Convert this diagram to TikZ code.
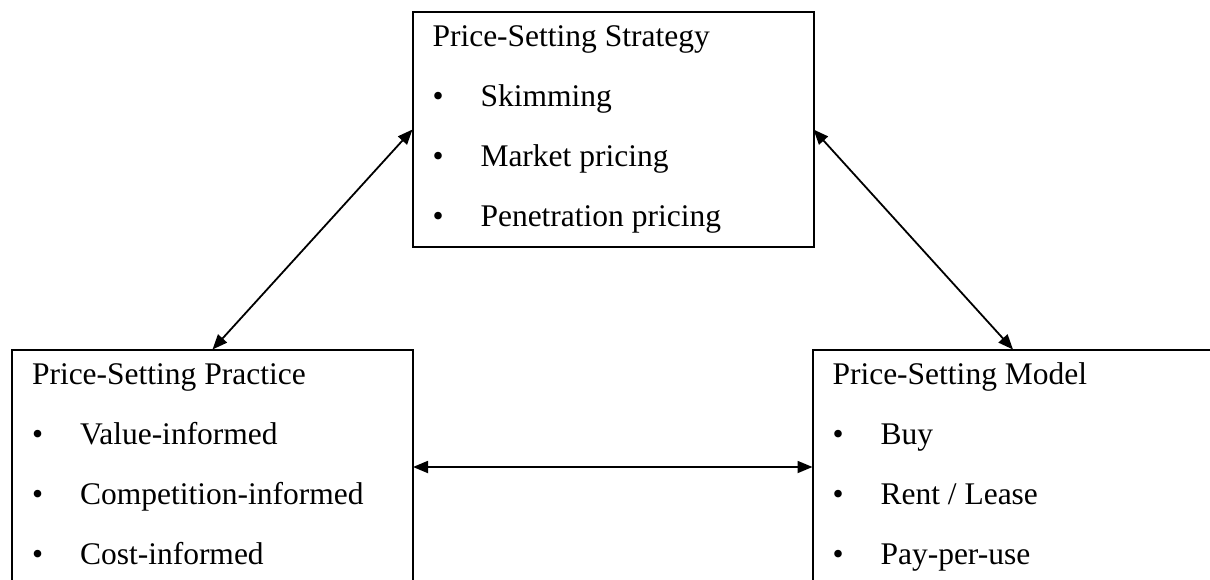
\documentclass[tikz,border=0pt]{standalone}
\usepackage{fontspec}
\setmainfont{Liberation Serif}
\usetikzlibrary{arrows.meta,calc}
\tikzset{
  box/.style={draw=black,line width=2pt,minimum width=401pt,minimum height=235pt,inner sep=0pt,outer sep=0pt},
  txt/.style={anchor=base west,inner sep=0pt,outer sep=0pt,font=\fontsize{31.5}{36}\selectfont},
  link/.style={line width=1.8pt,{Triangle[length=15pt,width=12pt]}-{Triangle[length=15pt,width=12pt]}}
}
\newcommand{\boxtext}[5]{%
  \node[txt] (#1t) at ($(#1.north west)+(20pt,-35pt)$) {#2};
  \node[txt] (#1b1) at ($(#1.north west)+(20pt,-95pt)$) {•};
  \node[txt] (#1i1) at ($(#1.north west)+(68pt,-95pt)$) {#3};
  \node[txt] (#1b2) at ($(#1.north west)+(20pt,-155pt)$) {•};
  \node[txt] (#1i2) at ($(#1.north west)+(68pt,-155pt)$) {#4};
  \node[txt] (#1b3) at ($(#1.north west)+(20pt,-215pt)$) {•};
  \node[txt] (#1i3) at ($(#1.north west)+(68pt,-215pt)$) {#5};
}
\begin{document}
\begin{tikzpicture}[x=1pt,y=-1pt]
\useasboundingbox (0,0) rectangle (1210,580);
\clip (0,0) rectangle (1210,580);
\fill[white] (0,0) rectangle (1210,580);
\node[box] (top) at (613,129.5) {};
\node[box] (lbox) at (212.5,467) {};
\node[box] (rbox) at (1013,467) {};
\boxtext{top}{Price-Setting Strategy}{Skimming}{Market pricing}{Penetration pricing}
\boxtext{lbox}{Price-Setting Practice}{Value-informed}{Competition-informed}{Cost-informed}
\boxtext{rbox}{Price-Setting Model}{Buy}{Rent / Lease}{Pay-per-use}
\draw[link] (top.west) -- (lbox.north);
\draw[link] (top.east) -- (rbox.north);
\draw[link] (lbox.east) -- (rbox.west);
\end{tikzpicture}
\end{document}
